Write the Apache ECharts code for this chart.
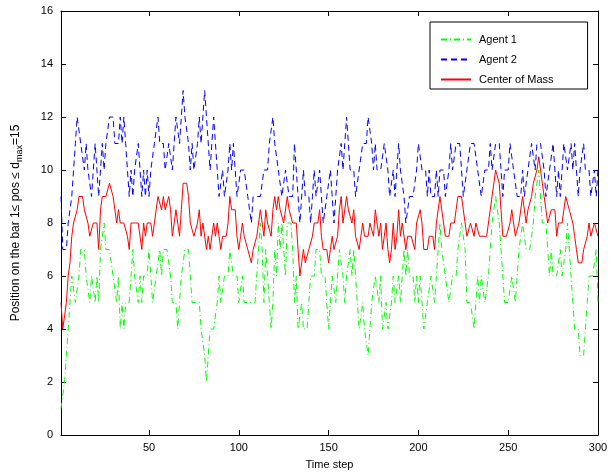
<!DOCTYPE html>
<html>
<head>
<meta charset="utf-8">
<script src="https://cdn.jsdelivr.net/npm/echarts@6/dist/echarts.min.js"></script>
<style>
html,body{margin:0;padding:0;background:#fff;}
#chart{width:611px;height:475px;}
</style>
</head>
<body>
<div id="chart"></div>
<script>
var seriesNames = ['Agent 1', 'Agent 2', 'Center of Mass'];
var xTicks = [50, 100, 150, 200, 250, 300];
var yTicks = [0, 2, 4, 6, 8, 10, 12, 14, 16];

var agent1 = [1,
 1,2,3,4,5,6,6,5,5,6,7,7,7,6,6,5,6,6,5,6,5,7,7,8,
 7,7,7,7,6,6,5,6,4,5,4,5,5,5,6,7,6,6,5,6,5,6,6,6,7,6,
 5,5,6,6,7,6,7,7,7,7,6,5,5,5,4,4,6,6,7,7,7,6,5,5,5,
 5,5,4,4,3,2,3,4,4,4,4,5,6,5,5,6,6,6,7,7,6,6,6,5,5,
 6,5,5,5,5,5,5,5,6,7,8,7,5,7,6,5,4,5,7,6,8,7,8,7,6,
 8,8,8,7,5,6,4,4,5,4,4,4,5,6,6,6,7,7,7,6,6,6,5,4,4,
 6,6,5,5,7,7,6,5,6,6,7,6,7,6,6,4,4,5,4,4,3,4,5,5,6,
 6,5,6,4,4,5,4,4,5,6,5,5,6,5,6,7,6,7,6,6,6,5,6,5,6,
 6,4,4,5,5,6,6,5,6,7,8,7,7,6,6,5,5,6,6,6,7,7,8,8,7,
 5,5,5,5,4,5,6,5,6,6,5,5,6,6,8,8,9,9,8,7,6,5,5,5,5,
 6,6,5,6,7,7,8,8,7,7,7,7,8,9,9,10,10,8,8,8,7,6,7,6,6,
 6,6,7,6,6,7,8,7,6,6,4,4,4,3,3,3,4,5,6,6,6,6,7,5];

var agent2 = [9,
 7,7,7,8,8,9,10,11,12,12,11,11,10,11,10,10,9,10,11,10,9,10,11,10,
 11,11,12,12,12,11,11,11,12,11,12,11,10,9,10,9,10,10,11,10,9,10,9,10,9,10,
 10,11,11,12,11,11,11,10,10,11,11,10,11,12,12,11,11,13,12,12,11,10,11,10,10,
 11,12,11,12,13,12,12,10,10,12,11,11,9,9,10,9,9,10,11,10,11,11,9,9,10,
 10,10,10,9,9,8,9,9,9,9,9,9,10,10,10,11,11,12,11,11,10,10,9,9,10,
 10,9,9,9,11,10,10,8,8,10,9,9,9,8,9,10,9,9,10,9,8,8,9,9,10,
 9,8,9,10,10,11,10,11,12,11,10,10,10,9,9,10,10,11,11,11,12,12,11,10,11,
 10,10,10,10,11,11,10,9,9,10,9,10,11,10,10,9,8,8,9,9,9,9,10,11,11,
 10,10,10,9,10,9,9,9,10,9,10,10,10,9,9,10,11,10,10,11,11,11,10,9,9,
 10,10,11,11,11,11,10,10,9,9,10,10,10,11,10,10,11,11,11,10,9,10,10,10,11,
 11,10,10,9,9,9,10,9,9,10,10,11,11,10,11,11,11,11,10,9,9,10,10,11,11,
 9,10,9,10,11,11,10,10,11,10,11,10,9,10,10,11,10,10,10,9,9,10,9,10];

var centerOfMass = [5,
 4,4.5,5,6,6.5,7.5,8,8,8.5,9,9,9,8.5,8.5,8,7.5,7.5,8,8,8,7,8.5,9,9,
 9,9,9.5,9.5,9,8.5,8,8.5,8,8,8,8,7.5,7,8,8,8,8,8,8,7,8,7.5,8,8,8,
 7.5,8,8.5,9,9,8.5,9,8.5,8.5,9,8.5,7.5,8,8.5,8,7.5,8.5,9.5,9.5,9.5,9,8,8,7.5,7.5,
 8,8.5,7.5,8,8,7,7.5,7,7,8,7.5,8,7.5,7,7.5,7.5,7.5,8,9,8.5,8.5,8.5,7.5,7,7.5,
 8,7.5,7.5,7,7,6.5,7,7,7.5,8,8.5,8,7.5,8.5,8,8,7.5,8.5,9,8.5,9,8.5,8.5,8,8,
 9,8.5,8.5,8,8,8,7,6,6.5,7,6.5,6.5,7,7,7.5,8,8,8,8.5,7.5,7,7,7,6.5,7,
 7.5,7,7,7.5,8.5,9,8,8,9,8.5,8.5,8,8.5,7.5,7.5,7,7,8,7.5,7.5,7.5,8,8,7.5,8.5,
 8,7.5,8,7,7.5,8,7,6.5,7,8,7,7.5,8.5,7.5,8,8,7,7.5,7.5,7.5,7.5,7,8,8,8.5,
 8,7,7,7,7.5,7.5,7.5,7,8,8,9,8.5,8.5,7.5,7.5,7.5,8,8,8,8.5,9,9,9,8.5,8,
 7.5,7.5,8,8,7.5,8,8,7.5,7.5,7.5,7.5,7.5,8,8.5,9,9,10,10,9.5,8.5,7.5,7.5,7.5,7.5,8,
 8.5,8,7.5,7.5,8,8,9,8.5,8,8.5,8.5,9,9.5,9.5,10,10.5,10.5,9.5,9,8.5,8,8,8.5,8.5,8.5,
 7.5,8,8,8,8.5,9,9,8.5,8.5,8,7.5,7,6.5,6.5,6.5,7,7,7.5,8,7.5,7.5,8,8,7.5];

var seriesColors = ['#00ff00', '#0000ff', '#ff0000'];
var seriesDash = [[6, 3, 1, 3], [6, 4], 'solid'];

function pairs(arr) { return arr.map(function (v, i) { return [i + 1, v]; }); }

var FONT = 'Liberation Sans, Arial, Helvetica, sans-serif';
var chart = echarts.init(document.getElementById('chart'), null, {renderer: 'canvas'});

var axisLine = {show: true, onZero: false, lineStyle: {color: '#000', width: 1}};
function xAx(pos, labels) {
  return {
    type: 'value', position: pos, min: 1, max: 300,
    axisLine: axisLine,
    axisTick: {show: true, inside: true, length: 5, customValues: xTicks, lineStyle: {color: '#000'}},
    axisLabel: {show: labels, customValues: xTicks, color: '#000', fontFamily: FONT, fontSize: 11, margin: 7},
    splitLine: {show: false},
    name: labels ? 'Time step' : '', nameLocation: 'middle', nameGap: 24,
    nameTextStyle: {color: '#000', fontFamily: FONT, fontSize: 11}
  };
}
function yAx(pos, labels) {
  return {
    type: 'value', position: pos, min: 0, max: 16, interval: 2,
    axisLine: axisLine,
    axisTick: {show: true, inside: true, length: 5, lineStyle: {color: '#000'}},
    axisLabel: {show: labels, color: '#000', fontFamily: FONT, fontSize: 11, margin: 8},
    splitLine: {show: false},
    name: labels ? '{a|Position on the bar 1\u2264 pos \u2264 d}{b|max}{a|=15}' : '',
    nameLocation: 'middle', nameGap: 37, nameRotate: 90,
    nameTextStyle: {
      color: '#000', fontFamily: FONT, fontSize: 12,
      rich: {
        a: {fontFamily: FONT, fontSize: 12, color: '#000'},
        b: {fontFamily: FONT, fontSize: 9, color: '#000', padding: [7, 0, 0, 0]}
      }
    }
  };
}

var values = [agent1, agent2, centerOfMass];
var series = seriesNames.map(function (name, i) {
  return {
    name: name, type: 'line', data: pairs(values[i]), symbol: 'none', showSymbol: false,
    clip: true, z: 2 + i,
    lineStyle: {color: seriesColors[i], width: 1, type: seriesDash[i]},
    itemStyle: {color: seriesColors[i]}
  };
});

chart.setOption({
  animation: false,
  backgroundColor: '#fff',
  grid: {left: 61, top: 11, width: 537, height: 429, containLabel: false},
  xAxis: [xAx('bottom', true), xAx('top', false)],
  yAxis: [yAx('left', true), yAx('right', false)],
  legend: {
    data: seriesNames,
    orient: 'vertical', left: 430, top: 22,
    padding: [12, 34, 4, 10], itemGap: 9,
    itemWidth: 30, itemHeight: 13,
    borderColor: '#000', borderWidth: 1, backgroundColor: '#fff',
    itemStyle: {opacity: 0},
    textStyle: {color: '#000', fontFamily: FONT, fontSize: 11, padding: [0, 0, 0, 3]}
  },
  series: series
});
</script>
</body>
</html>
